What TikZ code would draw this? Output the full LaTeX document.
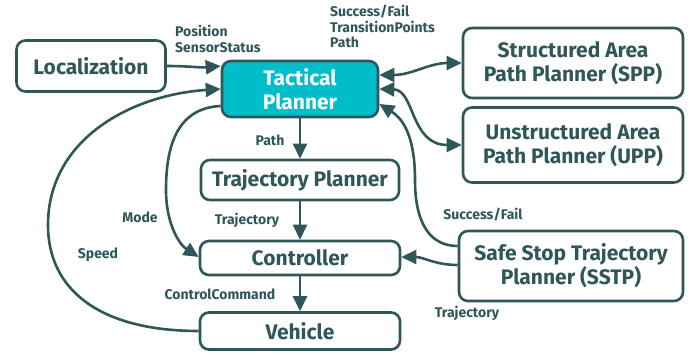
\documentclass[tikz,border=0pt]{standalone}
\usepackage{fontspec}
\setmainfont{Fira Sans}
\usetikzlibrary{arrows.meta}
\definecolor{dk}{HTML}{2F5758}
\definecolor{cy}{HTML}{00BEC9}
\begin{document}
\begin{tikzpicture}[x=1pt,y=-1pt,
  box/.style={draw=dk,line width=2.6pt,rounded corners=9pt,inner sep=0pt,align=center,
    text=dk,font=\fontsize{21}{24}\selectfont\bfseries},
  lbl/.style={text=dk,font=\fontsize{14}{15.5}\selectfont\bfseries,inner sep=0pt,align=left},
  con/.style={draw=dk,line width=2.6pt},
  arr/.style={con,-{Triangle[length=15pt,width=14pt]}},
  darr/.style={con,{Triangle[length=15pt,width=14pt]}-{Triangle[length=15pt,width=14pt]}}]
\useasboundingbox (0,0) rectangle (691,355);
\node[box,minimum width=149pt,minimum height=51pt] (loc) at (91,66) {Localization};
\node[box,fill=cy,text=white,minimum width=156pt,minimum height=56pt] (tac) at (300,89) {Tactical\\Planner};
\node[box,minimum width=220pt,minimum height=70pt] (spp) at (573,63) {Structured Area\\Path Planner (SPP)};
\node[box,minimum width=220pt,minimum height=75pt] (upp) at (573,145) {Unstructured Area\\Path Planner (UPP)};
\node[box,minimum width=198pt,minimum height=40pt] (tp) at (300,180) {Trajectory Planner};
\node[box,minimum width=200pt,minimum height=34pt] (ctl) at (300,258) {Controller};
\node[box,minimum width=200pt,minimum height=37pt] (veh) at (300,331) {Vehicle};
\node[box,minimum width=224pt,minimum height=70pt] (sstp) at (571,266) {Safe Stop Trajectory\\Planner (SSTP)};
% labels
\node[lbl,anchor=north west] (lpos) at (175,25) {Position\\SensorStatus};
\node[lbl,anchor=north west] (lsf) at (330,5) {Success/Fail\\TransitionPoints\\Path};
\node[lbl] (lpath) at (270,140) {Path};
\node[lbl] (lmode) at (140,217) {Mode};
\node[lbl] (lspeed) at (98,255) {Speed};
\node[lbl] (ltraj) at (247,220) {Trajectory};
\node[lbl] (lcc) at (220,294) {ControlCommand};
\node[lbl] (lsf2) at (483,215) {Success/Fail};
\node[lbl] (ltraj2) at (467,313) {Trajectory};
% connectors
\draw[arr] (loc.east) to[out=0,in=185] (tac.west |- loc.east);
\draw[arr] (tac.south) -- (tp.north);
\draw[arr] (tp.south) -- (ctl.north);
\draw[arr] (ctl.south) -- (veh.north);
\draw[arr] (veh.west) .. controls (100,331) and (48,290) .. (48,225) .. controls (48,140) and (130,95) .. (tac.west);
\draw[arr] ([yshift=-17pt]tac.west) .. controls (175,108) and (166,150) .. (166,190) .. controls (166,225) and (180,245) .. ([yshift=1pt]ctl.west);
\draw[darr] ([yshift=14pt]tac.east) to[out=0,in=180] (spp.west);
\draw[darr] (tac.east) .. controls (415,90) and (410,145) .. (upp.west);
\draw[arr] ([yshift=20pt]sstp.west) .. controls (425,246) and (415,215) .. (415,180) .. controls (415,140) and (405,120) .. ([yshift=-15pt]tac.east);
\draw[arr] ([yshift=1pt]sstp.west) to[out=180,in=0] ([yshift=1pt]ctl.east);
\end{tikzpicture}
\end{document}
